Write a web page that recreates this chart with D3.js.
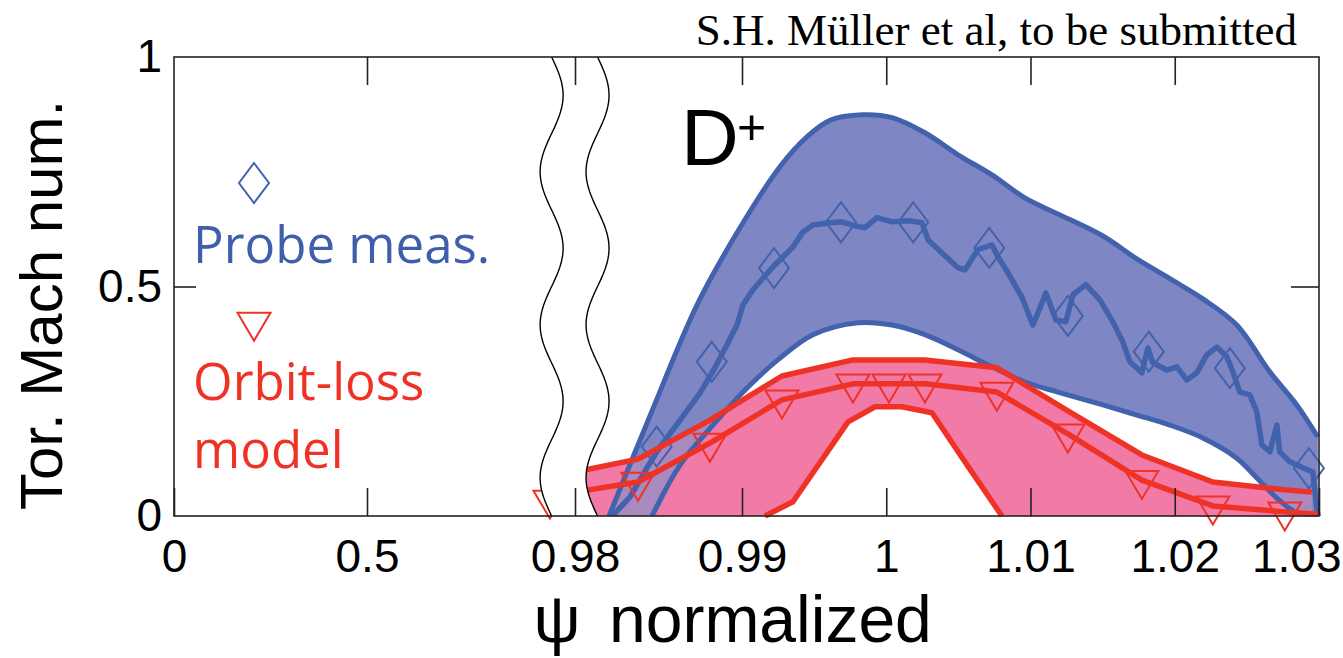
<!DOCTYPE html>
<html><head><meta charset="utf-8">
<script src="https://cdn.jsdelivr.net/npm/d3@7"></script>
<style>html,body{margin:0;padding:0;background:#fff;overflow:hidden}</style>
</head><body>
<svg id="c" width="1343" height="658"></svg>
<script>
// ---------- data ----------
const xTickValues = [0, 0.5, 0.98, 0.99, 1, 1.01, 1.02, 1.03];
const xTickLabels = ["0", "0.5", "0.98", "0.99", "1", "1.01", "1.02", "1.03"];
const yTickValues = [0, 0.5, 1];
const yTickLabels = ["0", "0.5", "1"];
const breakPsi = [0.9786, 0.98135];

// probe measurement (noisy line)
const probePsi = [0.98228,0.98329,0.98431,0.98509,0.98629,0.98749,0.98838,0.98910,0.98970,0.99007,
  0.99076,0.99215,0.99353,0.99423,0.99492,0.99610,0.99693,0.99783,0.99852,0.99936,
  1.00040,1.00164,1.00247,1.00289,1.00386,1.00497,1.00545,1.00635,1.00733,1.00774,
  1.00843,1.00940,1.01017,1.01107,1.01176,1.01245,1.01294,1.01384,1.01481,1.01571,
  1.01640,1.01689,1.01772,1.01814,1.01848,1.01945,1.02015,1.02084,1.02153,1.02222,
  1.02292,1.02361,1.02403,1.02451,1.02520,1.02569,1.02604,1.02659,1.02708,1.02728,
  1.02798,1.02888,1.02957,1.02985,1.02992];
const probeMach = [0.002,0.041,0.105,0.150,0.209,0.268,0.323,0.373,0.416,0.460,
  0.493,0.543,0.586,0.619,0.634,0.639,0.641,0.632,0.628,0.650,
  0.641,0.643,0.639,0.602,0.573,0.541,0.536,0.580,0.591,0.565,
  0.530,0.477,0.416,0.486,0.427,0.423,0.482,0.504,0.471,0.423,
  0.379,0.336,0.312,0.366,0.334,0.318,0.325,0.296,0.312,0.351,
  0.368,0.347,0.314,0.270,0.264,0.227,0.155,0.140,0.198,0.140,
  0.118,0.105,0.096,0.017,0.002];
// probe markers (diamonds)
const probeMarkPsi  = [0.98489,0.98819,0.99222,0.99686,1.00187,1.00714,1.01259,1.01820,1.02382,1.02930];
const probeMarkMach = [0.151,0.336,0.540,0.640,0.640,0.584,0.436,0.358,0.322,0.104];
// probe uncertainty band
const bandUpperPsi  = [0.98204,0.98449,0.98731,0.98970,0.99263,0.99450,0.99610,0.99832,1.00040,1.00268,
  1.00497,1.00733,1.00961,1.01190,1.01502,1.01737,1.01966,1.02195,1.02430,1.02659,1.02846,1.02992];
const bandUpperMach = [0.000,0.218,0.460,0.617,0.761,0.826,0.862,0.874,0.868,0.835,
  0.787,0.743,0.693,0.658,0.610,0.560,0.517,0.473,0.416,0.314,0.242,0.172];
const bandLowerPsi  = [0.98204,0.98461,0.98629,0.98826,0.99035,0.99263,0.99492,0.99804,1.00040,1.00268,
  1.00497,1.00733,1.00961,1.01190,1.01502,1.01737,1.01966,1.02195,1.02430,1.02569,1.02708,1.02846,1.02992];
const bandLowerMach = [0.000,0.000,0.111,0.198,0.279,0.344,0.395,0.421,0.416,0.395,
  0.362,0.325,0.292,0.270,0.242,0.220,0.198,0.170,0.126,0.083,0.039,0.007,0.000];

// orbit-loss model (triangles)
const modelPsi  = [0.97850,0.98377,0.98808,0.99277,0.99769,1.00019,1.00268,1.00767,1.01259,1.01772,1.02264,1.02763];
const modelMach = [0.035,0.074,0.159,0.253,0.288,0.288,0.288,0.270,0.179,0.078,0.022,0.009];
const modelLinePsi  = [0.98000,0.98377,0.98808,0.99277,0.99769,1.00019,1.00268,1.00767,1.01259,1.01772,1.02264,1.02763,1.02990];
const modelLineMach = [0.052,0.074,0.159,0.253,0.288,0.288,0.288,0.270,0.179,0.078,0.022,0.009,0.004];
const modelUpperPsi  = [0.98000,0.98377,0.98808,0.99277,0.99769,1.00019,1.00268,1.00767,1.01259,1.01772,1.02264,1.02763,1.02950];
const modelUpperMach = [0.096,0.124,0.209,0.305,0.340,0.340,0.340,0.323,0.229,0.133,0.074,0.057,0.052];
const modelLowerPsi  = [0.99159,0.99353,0.99735,0.99922,1.00109,1.00317,1.00545,1.00802];
const modelLowerMach = [0.000,0.031,0.205,0.238,0.238,0.225,0.118,0.000];

// ---------- colours ----------
const BLUE = "#4262ae", BLUEFILL = "#7e87c3", RED = "#ee3326", PINK = "#f27aa6", OVERLAP = "#a88abf";

// ---------- scales ----------
const svg = d3.select("#c");
const x = d3.scaleLinear().domain([0, 0.5, 0.975, 0.99, 1.03]).range([174, 367, 491.5, 742, 1319]);
const y = d3.scaleLinear().domain([0, 1]).range([516, 57]);
const zip = (a, b) => a.map((d, i) => [d, b[i]]);
const [yBot, yTop] = y.range();
const [xL, , , , xR] = x.range();

const lineSm = d3.line().x(d => x(d[0])).y(d => y(d[1])).curve(d3.curveCatmullRom.alpha(0.5));
const lineLin = d3.line().x(d => x(d[0])).y(d => y(d[1]));

const bandU = zip(bandUpperPsi, bandUpperMach);
const bandL = zip(bandLowerPsi, bandLowerMach);
const bandPath = lineSm(bandU) + lineSm(bandL.slice().reverse()).replace(/^M/, "L") + "Z";

const mU = zip(modelUpperPsi, modelUpperMach);
const mL = zip(modelLowerPsi, modelLowerMach);
const pinkPoly = [...mU, [mU[mU.length - 1][0], 0], ...mL.slice().reverse(), [mU[0][0], 0]];
const pinkPath = lineLin(pinkPoly) + "Z";

const defs = svg.append("defs");
defs.append("clipPath").attr("id", "bandClip").append("path").attr("d", bandPath);
defs.append("clipPath").attr("id", "plotClip").append("rect")
  .attr("x", xL).attr("y", yTop - 10).attr("width", xR - xL + 10).attr("height", yBot - yTop + 10);

const gPlot = svg.append("g").attr("clip-path", "url(#plotClip)");
// fills
gPlot.append("path").attr("d", bandPath).attr("fill", BLUEFILL);
gPlot.append("path").attr("d", pinkPath).attr("fill", PINK);
gPlot.append("path").attr("d", pinkPath).attr("fill", OVERLAP).attr("clip-path", "url(#bandClip)");

// band outlines
gPlot.append("path").attr("d", lineSm(bandU)).attr("fill", "none").attr("stroke", BLUE).attr("stroke-width", 5);
gPlot.append("path").attr("d", lineSm(bandL.slice(1))).attr("fill", "none").attr("stroke", BLUE).attr("stroke-width", 5);

// probe line
gPlot.append("path").attr("d", lineLin(zip(probePsi, probeMach))).attr("fill", "none")
  .attr("stroke", BLUE).attr("stroke-width", 5.5).attr("stroke-linejoin", "round").attr("stroke-linecap", "round");

const diamond = "M0,-20L15,0L0,20L-15,0Z";
const tri = "M-16.5,-9.3L16.5,-9.3L0,18.7Z";

svg.append("g").selectAll("path").data(zip(probeMarkPsi, probeMarkMach)).join("path")
  .attr("d", diamond).attr("transform", d => `translate(${x(d[0])},${y(d[1])})`)
  .attr("fill", "none").attr("stroke", BLUE).attr("stroke-width", 2);

// model lines
[mU, zip(modelLinePsi, modelLineMach), mL].forEach(arr => {
  svg.append("path").attr("d", lineLin(arr)).attr("fill", "none").attr("stroke", RED)
    .attr("stroke-width", 5.5).attr("stroke-linejoin", "round");
});
svg.append("g").selectAll("path").data(zip(modelPsi, modelMach)).join("path")
  .attr("d", tri).attr("transform", d => `translate(${x(d[0])},${y(d[1])})`)
  .attr("fill", "none").attr("stroke", RED).attr("stroke-width", 2);

// axis break (white band between two wavy lines)
const period = 153, amp = 11.5;
const wave = cx => d3.range(0, 121).map(i => {
  const yy = yTop + (yBot - yTop) * i / 120;
  return [cx + amp * Math.sin(2 * Math.PI * (yy - yTop) / period), yy];
});
const w1 = wave(x(breakPsi[0])), w2 = wave(x(breakPsi[1]));
const pl = d3.line().curve(d3.curveLinear);
svg.append("path").attr("d", pl([...w1, ...w2.slice().reverse()]) + "Z").attr("fill", "#fff");
[w1, w2].forEach(w => svg.append("path").attr("d", pl(w)).attr("fill", "none").attr("stroke", "#000").attr("stroke-width", 1.4));

// frame & axes
const AX = "#222";
svg.append("rect").attr("x", xL).attr("y", yTop).attr("width", xR - xL)
  .attr("height", yBot - yTop).attr("fill", "none").attr("stroke", AX).attr("stroke-width", 1.6);

const fontAx = "'Liberation Sans', Arial, Helvetica, sans-serif";
const gB = svg.append("g").attr("transform", `translate(0,${yBot})`)
  .call(d3.axisBottom(x).tickValues(xTickValues).tickSize(-28).tickPadding(23)
    .tickFormat((d, i) => xTickLabels[i]));
const gT = svg.append("g").attr("transform", `translate(0,${yTop})`)
  .call(d3.axisTop(x).tickValues(xTickValues.slice(1, -1)).tickSize(-28).tickFormat(""));
const gL = svg.append("g").attr("transform", `translate(${xL},0)`)
  .call(d3.axisLeft(y).tickValues(yTickValues).tickSize(-22).tickPadding(12)
    .tickFormat((d, i) => yTickLabels[i]));
const gR = svg.append("g").attr("transform", `translate(${xR},0)`)
  .call(d3.axisRight(y).tickValues([0.5]).tickSize(-28).tickFormat(""));
[gB, gT, gL, gR].forEach(g => {
  g.select(".domain").remove();
  g.selectAll(".tick line").attr("stroke", AX).attr("stroke-width", 1.6);
  g.selectAll("text").attr("font-family", fontAx).attr("font-size", 46).attr("fill", "#000");
});
gL.selectAll(".tick").filter(d => d === 0 || d === 1).select("line").remove();
// last x label sits at the window edge: keep it fully visible
gB.selectAll(".tick").filter(d => d === 1.03).select("text").attr("text-anchor", "end").attr("x", 1341 - xR);

// axis titles
svg.append("text").attr("transform", "translate(62,305) rotate(-90)").attr("text-anchor", "middle")
  .attr("font-family", fontAx).attr("font-size", 60).text("Tor. Mach num.");
svg.append("text").attr("x", 557).attr("y", 642).attr("text-anchor", "middle")
  .attr("font-family", fontAx).attr("font-size", 66).text("ψ");
svg.append("text").attr("x", 609).attr("y", 642)
  .attr("font-family", fontAx).attr("font-size", 66).text("normalized");

// caption
svg.append("text").attr("x", 1297).attr("y", 45).attr("text-anchor", "end")
  .attr("font-family", "'Liberation Serif', 'Times New Roman', serif").attr("font-size", 45)
  .text("S.H. Müller et al, to be submitted");

// species label
svg.append("text").attr("x", 681).attr("y", 165).attr("font-family", fontAx).attr("font-size", 80).text("D");
svg.append("text").attr("x", 737).attr("y", 144).attr("font-family", fontAx).attr("font-size", 50).text("+");

// legend
const fontLg = "'Open Sans', 'Noto Sans', sans-serif";
svg.append("path").attr("d", diamond).attr("transform", "translate(254,183)")
  .attr("fill", "none").attr("stroke", BLUE).attr("stroke-width", 2);
svg.append("text").attr("x", 193).attr("y", 263).attr("font-family", fontLg).attr("font-size", 51)
  .attr("fill", "#3f5eab").text("Probe meas.");
svg.append("path").attr("d", tri).attr("transform", "translate(254,322)")
  .attr("fill", "none").attr("stroke", RED).attr("stroke-width", 2);
svg.append("text").attr("x", 193).attr("y", 400).attr("font-family", fontLg).attr("font-size", 51)
  .attr("fill", RED).text("Orbit-loss");
svg.append("text").attr("x", 193).attr("y", 468).attr("font-family", fontLg).attr("font-size", 51)
  .attr("fill", RED).text("model");
</script>
</body></html>
